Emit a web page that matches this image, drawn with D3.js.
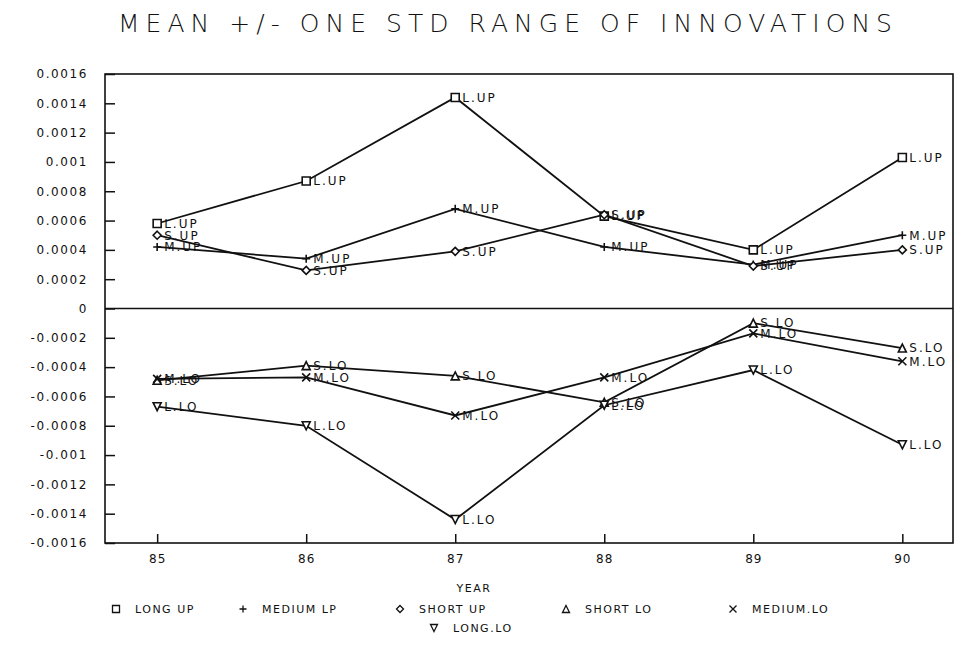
<!DOCTYPE html>
<html>
<head>
<meta charset="utf-8">
<script src="https://cdn.jsdelivr.net/npm/d3@7"></script>
<style>
  body { margin: 0; background: #fff; }
  text { font-family: "DejaVu Sans", sans-serif; fill: #111; }
</style>
</head>
<body>
<svg class="chart" width="960" height="650"></svg>
<script>
// data
var years = [85, 86, 87, 88, 89, 90];
var longUp   = [0.00058, 0.00087, 0.00144, 0.00063, 0.00040, 0.00103];
var mediumUp = [0.00042, 0.00034, 0.00068, 0.00042, 0.00030, 0.00050];
var shortUp  = [0.00050, 0.00026, 0.00039, 0.00064, 0.00029, 0.00040];
var shortLo  = [-0.00049, -0.00039, -0.00046, -0.00064, -0.00010, -0.00027];
var mediumLo = [-0.00048, -0.00047, -0.00073, -0.00047, -0.00017, -0.00036];
var longLo   = [-0.00067, -0.00080, -0.00144, -0.00066, -0.00042, -0.00093];

var yTicks = [0.0016, 0.0014, 0.0012, 0.001, 0.0008, 0.0006, 0.0004, 0.0002, 0,
              -0.0002, -0.0004, -0.0006, -0.0008, -0.001, -0.0012, -0.0014, -0.0016];
var yTickLabels = ["0.0016", "0.0014", "0.0012", "0.001", "0.0008", "0.0006", "0.0004", "0.0002", "0",
                   "-0.0002", "-0.0004", "-0.0006", "-0.0008", "-0.001", "-0.0012", "-0.0014", "-0.0016"];
var xTickLabels = ["85", "86", "87", "88", "89", "90"];

var seriesNames  = ["LONG UP", "MEDIUM LP", "SHORT UP", "SHORT LO", "MEDIUM.LO", "LONG.LO"];
var pointLabels  = ["L.UP", "M.UP", "S.UP", "S.LO", "M.LO", "L.LO"];
var seriesValues = [longUp, mediumUp, shortUp, shortLo, mediumLo, longLo];
var seriesMarks  = ["square", "plus", "diamond", "triangle", "times", "triangleDown"];

var svg = d3.select("svg.chart");

// scales
var x = d3.scaleLinear().domain([84.65, 90.34]).range([105, 953]);
var y = d3.scaleLinear().domain([-0.0016, 0.0016]).range([543, 74]);

// marker shapes
function marker(type, s) {
    var h = s / 2;
    if (type == "square") return "M" + (-h) + "," + (-h) + "h" + s + "v" + s + "h" + (-s) + "Z";
    if (type == "plus") return "M" + (-h) + ",0h" + s + "M0," + (-h) + "v" + s;
    if (type == "diamond") return "M0," + (-h) + "L" + h + ",0L0," + h + "L" + (-h) + ",0Z";
    if (type == "triangle") return "M0," + (-h) + "L" + h + "," + h + "L" + (-h) + "," + h + "Z";
    if (type == "triangleDown") return "M0," + h + "L" + h + "," + (-h) + "L" + (-h) + "," + (-h) + "Z";
    if (type == "times") return "M" + (-h) + "," + (-h) + "L" + h + "," + h + "M" + h + "," + (-h) + "L" + (-h) + "," + h;
}

// title
svg.append("text")
    .attr("x", 118).attr("y", 32)
    .attr("textLength", 774).attr("lengthAdjust", "spacing")
    .style("font-size", "25px").style("font-weight", "300")
    .text("MEAN +/- ONE STD RANGE OF INNOVATIONS");

// frame and zero line
svg.append("rect")
    .attr("x", 105).attr("y", 74)
    .attr("width", 848).attr("height", 469)
    .attr("fill", "none").attr("stroke", "#111").attr("stroke-width", 1.6);

svg.append("line")
    .attr("x1", 105).attr("x2", 953)
    .attr("y1", y(0)).attr("y2", y(0))
    .attr("stroke", "#111").attr("stroke-width", 1.6);

// y axis, ticks point inward
var yAxis = d3.axisLeft(y)
    .tickValues(yTicks)
    .tickFormat(function(d, i) { return yTickLabels[i]; })
    .tickSize(-10).tickPadding(17);

var gy = svg.append("g").attr("transform", "translate(105,0)").call(yAxis);
gy.select(".domain").remove();
gy.selectAll(".tick line").attr("stroke", "#111").attr("stroke-width", 1.5);
gy.selectAll(".tick text")
    .style("font-family", "DejaVu Sans").style("font-size", "12px")
    .style("letter-spacing", "1.6px").attr("fill", "#111");

// x axis
var xAxis = d3.axisBottom(x)
    .tickValues(years)
    .tickFormat(function(d, i) { return xTickLabels[i]; })
    .tickSize(-9).tickPadding(11);

var gx = svg.append("g").attr("transform", "translate(0,543)").call(xAxis);
gx.select(".domain").remove();
gx.selectAll(".tick line").attr("stroke", "#111").attr("stroke-width", 1.5);
gx.selectAll(".tick text")
    .style("font-family", "DejaVu Sans").style("font-size", "12px")
    .style("letter-spacing", "1px").attr("fill", "#111");

svg.append("text")
    .attr("x", 474).attr("y", 592)
    .attr("text-anchor", "middle")
    .style("font-size", "11px").style("letter-spacing", "1.5px")
    .text("YEAR");

// lines, markers, point labels
var line = d3.line()
    .x(function(d) { return x(d.year); })
    .y(function(d) { return y(d.value); });

seriesValues.forEach(function(vals, k) {
    var pts = vals.map(function(v, i) { return {year: years[i], value: v}; });

    svg.append("path")
        .datum(pts)
        .attr("d", line)
        .attr("fill", "none")
        .attr("stroke", "#111")
        .attr("stroke-width", 1.8);

    var g = svg.append("g").selectAll("g")
        .data(pts)
        .enter()
        .append("g")
        .attr("transform", function(d) { return "translate(" + x(d.year) + "," + y(d.value) + ")"; });

    g.append("path")
        .attr("d", marker(seriesMarks[k], 8))
        .attr("fill", "#fff")
        .attr("stroke", "#111")
        .attr("stroke-width", 1.6);

    g.append("text")
        .attr("x", 7).attr("dy", "0.36em")
        .style("font-size", "12px").style("letter-spacing", "2px")
        .text(pointLabels[k]);
});

// legend
var legendX = [116, 243, 400, 566, 733, 434];
var legendY = [609, 609, 609, 609, 609, 628];

var lg = svg.append("g").selectAll("g")
    .data(seriesNames)
    .enter()
    .append("g")
    .attr("transform", function(d, i) { return "translate(" + legendX[i] + "," + legendY[i] + ")"; });

lg.append("path")
    .attr("d", function(d, i) { return marker(seriesMarks[i], 7); })
    .attr("fill", "none")
    .attr("stroke", "#111")
    .attr("stroke-width", 1.3);

lg.append("text")
    .attr("x", 19).attr("dy", "0.36em")
    .style("font-size", "11px").style("letter-spacing", "1.5px")
    .text(function(d) { return d; });
</script>
</body>
</html>
